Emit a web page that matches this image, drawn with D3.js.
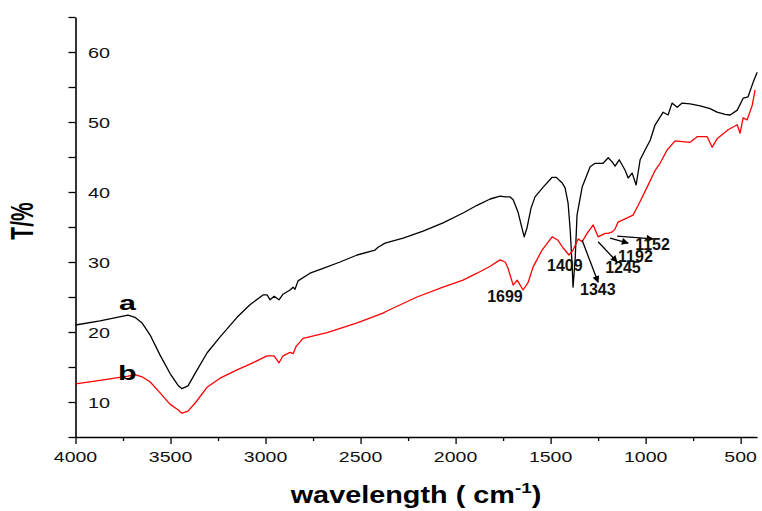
<!DOCTYPE html>
<html>
<head>
<meta charset="utf-8">
<script src="https://cdnjs.cloudflare.com/ajax/libs/d3/7.8.5/d3.min.js"></script>
<style>
  body { margin: 0; background: #fff; }
  svg { display: block; font-family: Arial, 'Liberation Sans', sans-serif; }
</style>
</head>
<body>
<div id="viz"></div>
<script>
// curve a (black)
const waveA = [4000, 3871, 3724, 3687, 3650, 3608, 3555, 3503, 3461, 3440, 3408, 3366, 3308, 3239,
  3150, 3082, 3013, 2992, 2976, 2955, 2929, 2908, 2871, 2855, 2845, 2829, 2766, 2697, 2608, 2518,
  2439, 2424, 2408, 2371, 2276, 2171, 2066, 1961, 1887, 1818, 1766, 1739, 1713, 1697, 1671, 1655,
  1639, 1624, 1603, 1582, 1539, 1492, 1471, 1439, 1424, 1408, 1397, 1387, 1382, 1371, 1361, 1334,
  1292, 1266, 1224, 1197, 1176, 1161, 1139, 1108, 1092, 1071, 1050, 1029, 1003, 976, 950, 924,
  908, 882, 861, 834, 808, 766, 713, 661, 624, 582, 555, 518, 487, 461, 434, 413];
const transA = [21.0, 21.6, 22.4, 22.1, 21.3, 19.6, 16.7, 14.1, 12.4, 11.9, 12.3, 14.3, 17.0, 19.3,
  22.1, 23.9, 25.3, 25.3, 24.6, 25.1, 24.6, 25.4, 26.0, 26.4, 26.1, 27.3, 28.4, 29.1, 30.0, 31.0,
  31.6, 31.7, 32.1, 32.7, 33.4, 34.4, 35.6, 37.0, 38.1, 39.0, 39.4, 39.3, 39.3, 38.9, 37.1, 35.3,
  33.6, 34.9, 37.7, 39.3, 40.7, 42.1, 42.1, 41.3, 40.6, 38.4, 34.6, 29.6, 26.4, 30.3, 36.7, 40.7,
  43.6, 44.1, 44.1, 44.9, 44.3, 43.7, 44.6, 43.1, 42.0, 42.7, 41.0, 44.6, 46.0, 47.4, 49.6, 50.7,
  51.4, 51.0, 52.7, 52.1, 52.7, 52.6, 52.3, 51.9, 51.4, 51.1, 51.0, 51.7, 53.4, 53.6, 55.7, 57.1];

// curve b (red)
const waveB = [4000, 3871, 3724, 3687, 3650, 3608, 3555, 3503, 3461, 3440, 3408, 3366, 3308, 3239,
  3150, 3082, 2992, 2955, 2929, 2908, 2871, 2855, 2840, 2803, 2676, 2518, 2382, 2361, 2203, 2066,
  1961, 1887, 1818, 1766, 1739, 1724, 1697, 1676, 1645, 1618, 1592, 1545, 1492, 1461, 1434, 1403,
  1382, 1355, 1334, 1308, 1276, 1250, 1213, 1197, 1176, 1161, 1145, 1066, 1039, 992, 950, 924,
  887, 845, 766, 729, 676, 650, 624, 566, 518, 503, 487, 466, 439, 424];
const transB = [12.6, 13.1, 13.7, 13.9, 13.6, 12.9, 11.3, 9.7, 8.9, 8.4, 8.7, 10.0, 12.1, 13.4,
  14.6, 15.4, 16.6, 16.6, 15.6, 16.6, 17.1, 16.9, 17.9, 19.1, 19.9, 21.3, 22.7, 23.0, 25.0, 26.4,
  27.4, 28.4, 29.4, 30.3, 30.0, 29.1, 26.7, 27.4, 26.0, 27.1, 29.3, 31.7, 33.6, 33.1, 32.0, 31.0,
  31.7, 33.3, 32.9, 34.1, 35.3, 33.6, 34.1, 34.1, 34.3, 34.7, 35.7, 36.7, 38.1, 40.7, 43.1, 44.1,
  46.0, 47.3, 47.1, 47.9, 47.9, 46.4, 47.6, 48.9, 49.6, 48.4, 50.6, 50.3, 52.4, 54.6];

const seriesNames = ['a', 'b'];
const seriesLabelWave = [3771, 3776];
const seriesLabelT = [23.1, 13.1];

const xMajorTicks = [4000, 3500, 3000, 2500, 2000, 1500, 1000, 500];
const xMinorTicks = [3750, 3250, 2750, 2250, 1750, 1250, 750];
const yTicks = [5, 10, 15, 20, 25, 30, 35, 40, 45, 50, 55, 60, 65];
const yLabels = [10, 20, 30, 40, 50, 60];

// band assignments written next to the spectra
const peakLabels = ['1699', '1409', '1343', '1245', '1192', '1152'];
const peakLabelWave = [1834, 1519, 1345, 1213, 1145, 1055];
const peakLabelT = [24.3, 28.7, 25.3, 28.4, 30.0, 31.7];
const arrowFrom = [null, null, [1334, 33.1], [1250, 32.9], [1187, 33.4], [1150, 33.7]];
const arrowTo = [null, null, [1250, 27.1], [1150, 30.0], [1092, 32.7], [961, 33.3]];

const WIDTH = 762;
const HEIGHT = 511;
const PLOT = { left: 75.5, right: 757, top: 17, bottom: 437 };
const COLORS = ['#000000', '#ff0000'];

const svg = d3.select('#viz').append('svg')
  .attr('width', WIDTH)
  .attr('height', HEIGHT);

const x = d3.scaleLinear().domain([4000, 414]).range([PLOT.left, PLOT.right]);
const y = d3.scaleLinear().domain([5, 65]).range([PLOT.bottom, PLOT.top]);

// axes
const yAxis = svg.append('g')
  .attr('transform', `translate(${PLOT.left},0)`)
  .call(d3.axisLeft(y).tickValues(yTicks).tickSize(7).tickSizeOuter(0).tickFormat(''));
const xAxis = svg.append('g')
  .attr('transform', `translate(0,${PLOT.bottom})`)
  .call(d3.axisBottom(x).tickValues(xMajorTicks).tickSize(7).tickSizeOuter(0).tickFormat(''));
const xMinor = svg.append('g')
  .attr('transform', `translate(0,${PLOT.bottom})`)
  .call(d3.axisBottom(x).tickValues(xMinorTicks).tickSize(4).tickFormat(''));
xMinor.select('.domain').remove();
svg.selectAll('.domain').attr('stroke-width', 1.6);
svg.selectAll('.tick line').attr('stroke-width', 1.3);

// tick labels (y labels sit inside the frame)
svg.append('g').selectAll('text')
  .data(yLabels)
  .join('text')
  .attr('transform', d => `translate(88,${y(d) + 5.5}) scale(1.28,1)`)
  .attr('font-size', 15.5)
  .attr('fill', '#111')
  .text(d => d);

svg.append('g').selectAll('text')
  .data(xMajorTicks)
  .join('text')
  .attr('transform', d => `translate(${x(d)},462) scale(1.26,1)`)
  .attr('text-anchor', 'middle')
  .attr('font-size', 15.5)
  .attr('fill', '#111')
  .text(d => d);

// axis titles
const xTitle = svg.append('text')
  .attr('transform', 'translate(416,503)')
  .attr('text-anchor', 'middle')
  .attr('font-size', 23)
  .attr('font-weight', 'bold');
xTitle.append('tspan').text('wavelength ( cm');
xTitle.append('tspan').attr('font-size', 15).attr('dy', -10).text('-1');
xTitle.append('tspan').attr('dy', 10).text(')');
const tw = xTitle.node().getBBox().width;
xTitle.attr('transform', `translate(416,503) scale(${252 / tw},1)`);

svg.append('text')
  .attr('transform', 'translate(33,221) scale(1.45,1) rotate(-90)')
  .attr('text-anchor', 'middle')
  .attr('font-size', 21)
  .attr('font-weight', 'bold')
  .text('T/%');

// spectra
const line = d3.line()
  .x(d => x(d[0]))
  .y(d => y(d[1]));
const spectra = [d3.zip(waveA, transA), d3.zip(waveB, transB)];
svg.append('g').selectAll('path')
  .data(spectra)
  .join('path')
  .attr('fill', 'none')
  .attr('stroke', (d, i) => COLORS[i])
  .attr('stroke-width', 1.3)
  .attr('stroke-linejoin', 'round')
  .attr('d', line);

// series labels
svg.append('g').selectAll('text')
  .data(seriesNames)
  .join('text')
  .attr('transform', (d, i) => `translate(${x(seriesLabelWave[i])},${y(seriesLabelT[i])}) scale(1.45,1)`)
  .attr('font-size', 21)
  .attr('font-weight', 'bold')
  .text(d => d);

// peak labels and arrows
svg.append('defs').append('marker')
  .attr('id', 'head')
  .attr('viewBox', '0 0 10 10')
  .attr('refX', 9)
  .attr('refY', 5)
  .attr('markerWidth', 9)
  .attr('markerHeight', 7)
  .attr('markerUnits', 'userSpaceOnUse')
  .attr('orient', 'auto')
  .append('path')
  .attr('d', 'M0,0L10,5L0,10Z')
  .attr('fill', '#000');

svg.append('g').selectAll('line')
  .data(peakLabels.map((d, i) => i).filter(i => arrowFrom[i]))
  .join('line')
  .attr('x1', i => x(arrowFrom[i][0]))
  .attr('y1', i => y(arrowFrom[i][1]))
  .attr('x2', i => x(arrowTo[i][0]))
  .attr('y2', i => y(arrowTo[i][1]))
  .attr('stroke', '#000')
  .attr('stroke-width', 1.3)
  .attr('marker-end', 'url(#head)');

svg.append('g').selectAll('text')
  .data(peakLabels)
  .join('text')
  .attr('x', (d, i) => x(peakLabelWave[i]))
  .attr('y', (d, i) => y(peakLabelT[i]))
  .attr('font-size', 16)
  .attr('font-weight', 'bold')
  .attr('fill', '#111')
  .text(d => d);
</script>
</body>
</html>
